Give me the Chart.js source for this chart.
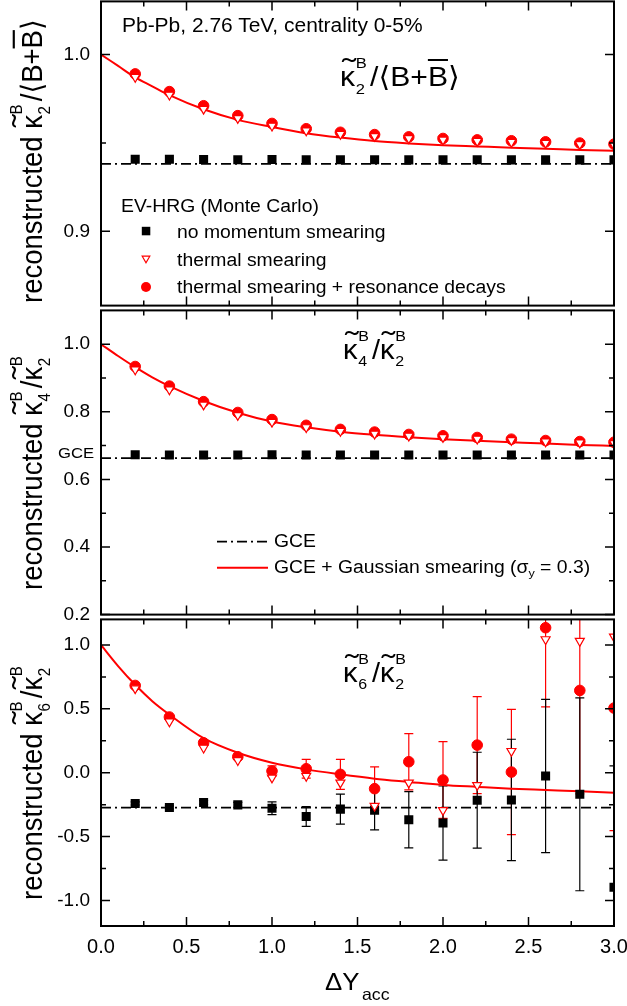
<!DOCTYPE html>
<html>
<head>
<meta charset="utf-8">
<title>Reconstructed baryon cumulant ratios vs acceptance</title>
<script src="https://cdn.jsdelivr.net/npm/chart.js@4.4.1/dist/chart.umd.min.js"></script>
<style>
html,body{margin:0;padding:0;background:#fff;}
#wrap{position:relative;width:627px;height:1006px;overflow:hidden;background:#fff;font-family:"Liberation Sans",Arial,Helvetica,sans-serif;color:#000;}
canvas{position:absolute;left:0;}
.t{position:absolute;white-space:nowrap;line-height:1;transform-origin:0 0;}
.sx{transform:scaleX(1.075);}
.yl{transform:rotate(-90deg) scaleY(1.075);}
.kt{position:relative;}
.tl{position:absolute;left:.06em;top:-.23em;transform:scaleX(1.4);transform-origin:0 0;}
.ss{display:inline-block;position:relative;width:.5em;height:0;}
.ss .u,.ss .d{position:absolute;left:.04em;font-size:.55em;line-height:1;}
.ss .u{top:-2.03em;}
.ss .d{top:-.34em;}
.ov{text-decoration:overline;text-decoration-thickness:.06em;}
.ab{font-family:"DejaVu Sans",sans-serif;}
.sb{position:relative;top:.35em;font-size:.65em;}
svg{position:absolute;left:0;top:0;}
</style>
</head>
<body>
<div id="wrap">
  <canvas id="c1" width="627" height="317" style="top:-5px"></canvas>
  <canvas id="c2" width="627" height="317" style="top:304px"></canvas>
  <canvas id="c3" width="627" height="353" style="top:613px"></canvas>

  <!-- legend symbols -->
  <svg width="627" height="1006" viewBox="0 0 627 1006">
    <rect x="141.8" y="226.8" width="8.5" height="8.5" fill="#000"/>
    <polygon points="142.2,256.2 149.8,256.2 146,262.8" fill="#fff" stroke="#f00" stroke-width="1.2"/>
    <circle cx="146" cy="287" r="5" fill="#f00"/>
    <line x1="217" y1="541.7" x2="268" y2="541.7" stroke="#000" stroke-width="1.8" stroke-dasharray="10,4,2,4"/>
    <line x1="217" y1="567.7" x2="268" y2="567.7" stroke="#f00" stroke-width="2"/>
  </svg>

  <!-- panel 1 texts -->
  <div class="t sx" style="left:122px;top:16px;font-size:19.5px">Pb-Pb, 2.76 TeV, centrality 0-5%</div>
  <div class="t sx" style="left:340px;top:63px;font-size:28px"><span class="kt">κ<span class="tl">˜</span></span><span class="ss"><span class="u">B</span><span class="d">2</span></span>/<span class="ab">⟨</span>B+<span class="ov">B</span><span class="ab">⟩</span></div>
  <div class="t sx" style="left:121px;top:196.5px;font-size:18px">EV-HRG (Monte Carlo)</div>
  <div class="t sx" style="left:177px;top:223px;font-size:18px">no momentum smearing</div>
  <div class="t sx" style="left:177px;top:250.8px;font-size:18px">thermal smearing</div>
  <div class="t sx" style="left:177px;top:278.1px;font-size:18px">thermal smearing + resonance decays</div>

  <!-- panel 2 texts -->
  <div class="t sx" style="left:343px;top:337px;font-size:27px"><span class="kt">κ<span class="tl">˜</span></span><span class="ss"><span class="u">B</span><span class="d">4</span></span>/<span class="kt">κ<span class="tl">˜</span></span><span class="ss"><span class="u">B</span><span class="d">2</span></span></div>
  <div class="t sx" style="left:58px;top:445.4px;font-size:15.5px">GCE</div>
  <div class="t sx" style="left:274px;top:532.1px;font-size:18px">GCE</div>
  <div class="t sx" style="left:274px;top:558.1px;font-size:18px">GCE + Gaussian smearing (σ<span class="sb">y</span> = 0.3)</div>

  <!-- panel 3 texts -->
  <div class="t sx" style="left:343px;top:660px;font-size:27px"><span class="kt">κ<span class="tl">˜</span></span><span class="ss"><span class="u">B</span><span class="d">6</span></span>/<span class="kt">κ<span class="tl">˜</span></span><span class="ss"><span class="u">B</span><span class="d">2</span></span></div>

  <!-- axis titles -->
  <div class="t yl" style="left:16.7px;top:303px;font-size:27.5px">reconstructed <span class="kt">κ<span class="tl">˜</span></span><span class="ss"><span class="u">B</span><span class="d">2</span></span>/<span class="ab">⟨</span>B+<span class="ov">B</span><span class="ab">⟩</span></div>
  <div class="t yl" style="left:16.7px;top:590px;font-size:27.5px">reconstructed <span class="kt">κ<span class="tl">˜</span></span><span class="ss"><span class="u">B</span><span class="d">4</span></span>/<span class="kt">κ<span class="tl">˜</span></span><span class="ss"><span class="u">B</span><span class="d">2</span></span></div>
  <div class="t yl" style="left:16.7px;top:900px;font-size:27.5px">reconstructed <span class="kt">κ<span class="tl">˜</span></span><span class="ss"><span class="u">B</span><span class="d">6</span></span>/<span class="kt">κ<span class="tl">˜</span></span><span class="ss"><span class="u">B</span><span class="d">2</span></span></div>
  <div class="t sx" style="left:325px;top:969.7px;font-size:24px">ΔY</div>
  <div class="t sx" style="left:362px;top:985.5px;font-size:16.5px">acc</div>
</div>

<script>
// ---------- shared x data ----------
const xPts = [0.2, 0.4, 0.6, 0.8, 1.0, 1.2, 1.4, 1.6, 1.8, 2.0, 2.2, 2.4, 2.6, 2.8, 3.0];
const curveX = [0, 0.1, 0.2, 0.3, 0.4, 0.6, 0.8, 1.0, 1.2, 1.4, 1.6, 1.8, 2.0, 2.2, 2.4, 2.6, 2.8, 3.0];
const xTickMajor = [0, 0.5, 1.0, 1.5, 2.0, 2.5, 3.0];
const xTickMinor = [0.25, 0.75, 1.25, 1.75, 2.25, 2.75];

// ---------- panel 1: kappa2 / <B+Bbar> ----------
const k2NoSmear = [0.9408, 0.9407, 0.9406, 0.9405, 0.9406, 0.9405, 0.9405, 0.9405, 0.9404, 0.9405, 0.9405, 0.9404, 0.9405, 0.9404, 0.9404];
const k2Thermal = [0.9872, 0.9772, 0.9692, 0.9640, 0.9597, 0.9570, 0.9550, 0.9538, 0.9526, 0.9518, 0.9510, 0.9505, 0.9500, 0.9493, 0.9488];
const k2ThermalDecay = [0.9890, 0.9790, 0.9710, 0.9654, 0.9610, 0.9580, 0.9560, 0.9547, 0.9534, 0.9525, 0.9517, 0.9512, 0.9506, 0.9499, 0.9493];
const k2GCE = 0.9381;
const k2Gauss = [1.0, 0.9935, 0.987, 0.982, 0.977, 0.969, 0.963, 0.959, 0.9555, 0.953, 0.951, 0.9497, 0.9487, 0.948, 0.9473, 0.9467, 0.946, 0.9455];
const k2TickMajor = [0.9, 1.0];
const k2TickMinor = [0.95];

// ---------- panel 2: kappa4 / kappa2 ----------
const k4NoSmear = [0.673, 0.672, 0.672, 0.672, 0.673, 0.672, 0.672, 0.672, 0.672, 0.672, 0.672, 0.672, 0.672, 0.672, 0.672];
const k4Thermal = [0.925, 0.866, 0.821, 0.790, 0.770, 0.754, 0.743, 0.735, 0.729, 0.725, 0.720, 0.716, 0.712, 0.709, 0.707];
const k4ThermalDecay = [0.934, 0.876, 0.830, 0.798, 0.777, 0.760, 0.748, 0.740, 0.733, 0.729, 0.724, 0.719, 0.715, 0.712, 0.710];
const k4GCE = 0.663;
const k4Gauss = [1.0, 0.965, 0.932, 0.902, 0.876, 0.832, 0.797, 0.771, 0.754, 0.741, 0.732, 0.725, 0.719, 0.714, 0.710, 0.706, 0.702, 0.699];
const k4TickMajor = [0.2, 0.4, 0.6, 0.8, 1.0];
const k4TickMinor = [0.3, 0.5, 0.7, 0.9];

// ---------- panel 3: kappa6 / kappa2 ----------
const k6NoSmear = [-0.241, -0.272, -0.233, -0.252, -0.278, -0.343, -0.285, -0.293, -0.368, -0.394, -0.215, -0.213, -0.026, -0.169, -0.896];
const k6NoSmearErr = [0.012, 0.012, 0.015, 0.02, 0.05, 0.077, 0.117, 0.155, 0.22, 0.29, 0.375, 0.475, 0.6, 0.755, 0.95];
const k6Thermal = [0.66, 0.40, 0.195, 0.097, -0.039, -0.026, -0.078, -0.26, -0.078, -0.293, -0.098, 0.169, 1.044, 1.031, 1.065];
const k6ThermalDecay = [0.683, 0.436, 0.234, 0.125, 0.013, 0.031, -0.013, -0.125, 0.086, -0.057, 0.216, 0.005, 1.135, 0.644, 0.506];
const k6ThermalDecayErr = [0.01, 0.01, 0.015, 0.02, 0.04, 0.073, 0.117, 0.17, 0.22, 0.3, 0.38, 0.49, 0.62, 0.81, 0.96];
const k6GCE = -0.273;
const k6Gauss = [1.0, 0.835, 0.688, 0.56, 0.455, 0.27, 0.156, 0.078, 0.026, -0.013, -0.047, -0.072, -0.096, -0.111, -0.125, -0.135, -0.145, -0.156];
const k6TickMajor = [-1.0, -0.5, 0.0, 0.5, 1.0];
const k6TickMinor = [-0.75, -0.25, 0.25, 0.75];

// ---------- plugins ----------
const errorBarPlugin = {
  id: 'errbars',
  beforeDatasetsDraw(chart) {
    const {ctx, chartArea: a} = chart;
    const ys = chart.scales.y;
    ctx.save();
    ctx.beginPath();
    ctx.rect(a.left, a.top, a.right - a.left, a.bottom - a.top);
    ctx.clip();
    chart.data.datasets.forEach((ds, i) => {
      if (!ds.errorBars) return;
      const meta = chart.getDatasetMeta(i);
      ctx.strokeStyle = ds.errorColor;
      ctx.lineWidth = 1.2;
      meta.data.forEach((el, j) => {
        const e = ds.errorBars[j];
        const v = ds.data[j].y;
        const px = el.x;
        const y1 = ys.getPixelForValue(v + e);
        const y2 = ys.getPixelForValue(v - e);
        ctx.beginPath();
        ctx.moveTo(px, y1); ctx.lineTo(px, y2);
        ctx.moveTo(px - 4.5, y1); ctx.lineTo(px + 4.5, y1);
        ctx.moveTo(px - 4.5, y2); ctx.lineTo(px + 4.5, y2);
        ctx.stroke();
      });
    });
    ctx.restore();
  }
};

const framePlugin = {
  id: 'frame',
  afterDatasetsDraw(chart, args, opts) {
    const {ctx, chartArea: a} = chart;
    const xs = chart.scales.x, ys = chart.scales.y;
    ctx.save();
    ctx.strokeStyle = '#000';
    ctx.lineWidth = 1.5;
    ctx.beginPath();
    const xt = (list, len) => list.forEach(v => {
      const p = xs.getPixelForValue(v);
      ctx.moveTo(p, a.bottom); ctx.lineTo(p, a.bottom - len);
      ctx.moveTo(p, a.top); ctx.lineTo(p, a.top + len);
    });
    const yt = (list, len) => list.forEach(v => {
      const p = ys.getPixelForValue(v);
      ctx.moveTo(a.left, p); ctx.lineTo(a.left + len, p);
      ctx.moveTo(a.right, p); ctx.lineTo(a.right - len, p);
    });
    xt(opts.xMajor, 9); xt(opts.xMinor, 5);
    yt(opts.yMajor, 9); yt(opts.yMinor, 5);
    ctx.stroke();
    ctx.lineWidth = 2;
    ctx.strokeRect(a.left, a.top, a.right - a.left, a.bottom - a.top);
    ctx.restore();
  }
};

Chart.register(errorBarPlugin, framePlugin);
Chart.defaults.font.family = "'Liberation Sans', Arial, Helvetica, sans-serif";
Chart.defaults.color = '#000';

function pts(xs, ys) { return xs.map((x, i) => ({x: x, y: ys[i]})); }

function buildDatasets(noSm, noSmErr, th, thDec, thDecErr, gce, gauss) {
  return [
    {label: 'thermal smearing', data: pts(xPts, th), showLine: false,
     pointStyle: 'triangle', pointRotation: 180, pointRadius: 5.2,
     pointBackgroundColor: '#fff', pointBorderColor: '#f00', pointBorderWidth: 1.2,
     order: 1, clip: 0},
    {label: 'thermal smearing + resonance decays', data: pts(xPts, thDec), showLine: false,
     pointStyle: 'circle', pointRadius: 5.3,
     pointBackgroundColor: '#f00', pointBorderColor: '#f00', pointBorderWidth: 1,
     order: 2, clip: 0, errorBars: thDecErr, errorColor: '#f00'},
    {label: 'no momentum smearing', data: pts(xPts, noSm), showLine: false,
     pointStyle: 'rect', pointRadius: 6.4,
     pointBackgroundColor: '#000', pointBorderColor: '#000', pointBorderWidth: 0,
     order: 3, clip: 0, errorBars: noSmErr, errorColor: '#000'},
    {label: 'GCE + Gaussian smearing', data: pts(curveX, gauss), showLine: true,
     borderColor: '#f00', borderWidth: 2, pointRadius: 0,
     cubicInterpolationMode: 'monotone', order: 4, clip: 0},
    {label: 'GCE', data: [{x: xTickMajor[0], y: gce}, {x: xTickMajor[xTickMajor.length - 1], y: gce}],
     showLine: true, borderColor: '#000', borderWidth: 1.8, borderDash: [10, 4, 2, 4],
     pointRadius: 0, order: 5, clip: 0}
  ];
}

function makePanel(id, datasets, yMin, yMax, yMajor, yMinor, bottomAxis, pad) {
  return new Chart(document.getElementById(id), {
    type: 'scatter',
    data: {datasets: datasets},
    options: {
      responsive: false,
      animation: false,
      events: [],
      layout: {padding: {left: 0, right: 13, top: pad.top, bottom: pad.bottom}},
      plugins: {
        legend: {display: false},
        tooltip: {enabled: false},
        frame: {xMajor: xTickMajor, xMinor: xTickMinor, yMajor: yMajor, yMinor: yMinor}
      },
      scales: {
        x: {
          type: 'linear', min: 0, max: 3, display: bottomAxis,
          grid: {display: false, drawTicks: false}, border: {display: false},
          ticks: {font: {size: 20}, padding: 9, maxRotation: 0, callback: v => Number(v).toFixed(1)},
          afterBuildTicks: s => { s.ticks = xTickMajor.map(v => ({value: v})); },
          afterFit: s => { s.height = bottomAxis ? 40 : 0; s.paddingLeft = 0; s.paddingRight = 0; }
        },
        y: {
          type: 'linear', min: yMin, max: yMax,
          grid: {display: false, drawTicks: false}, border: {display: false},
          ticks: {font: {size: 19}, padding: 11, callback: v => Number(v).toFixed(1)},
          afterBuildTicks: s => { s.ticks = yMajor.map(v => ({value: v})); },
          afterFit: s => { s.width = 101; s.paddingTop = 0; s.paddingBottom = 0; }
        }
      }
    }
  });
}

makePanel('c1', buildDatasets(k2NoSmear, null, k2Thermal, k2ThermalDecay, null, k2GCE, k2Gauss),
  0.858, 1.03, k2TickMajor, k2TickMinor, false, {top: 4, bottom: 4});
makePanel('c2', buildDatasets(k4NoSmear, null, k4Thermal, k4ThermalDecay, null, k4GCE, k4Gauss),
  0.2, 1.1, k4TickMajor, k4TickMinor, false, {top: 4, bottom: 4});
makePanel('c3', buildDatasets(k6NoSmear, k6NoSmearErr, k6Thermal, k6ThermalDecay, k6ThermalDecayErr, k6GCE, k6Gauss),
  -1.2, 1.2, k6TickMajor, k6TickMinor, true, {top: 4, bottom: 0});
</script>
</body>
</html>
